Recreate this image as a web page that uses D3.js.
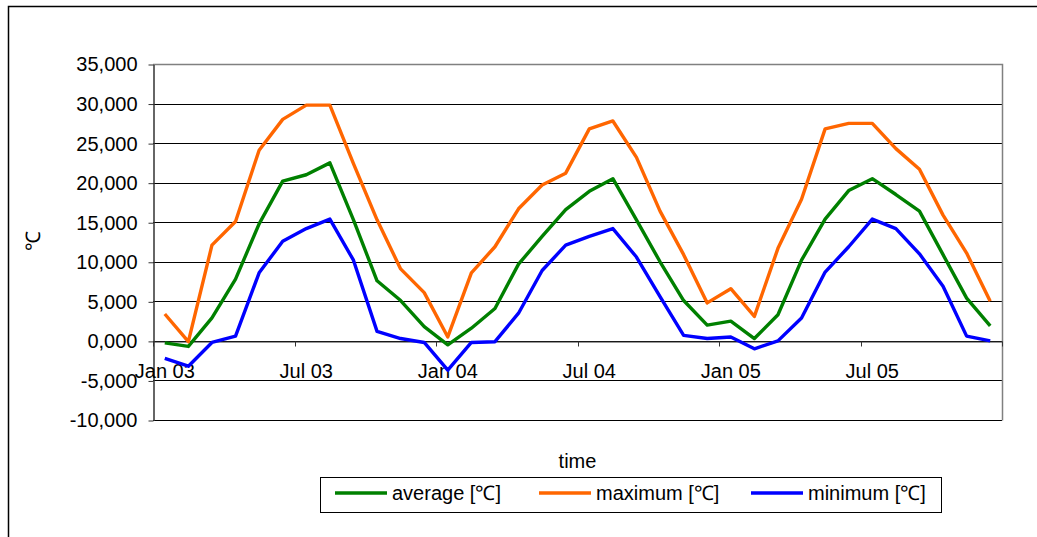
<!DOCTYPE html>
<html>
<head>
<meta charset="utf-8">
<script src="https://cdn.jsdelivr.net/npm/d3@7"></script>
<style>
  html, body { margin: 0; padding: 0; background: #fff; }
  svg { display: block; font-family: "Liberation Sans", Arial, sans-serif; }
</style>
</head>
<body>
<svg id="chart" width="1037" height="537"></svg>
<script>
// Monthly temperatures, Jan 2003 – Dec 2005
const months = [
  "Jan 03","Feb 03","Mar 03","Apr 03","May 03","Jun 03","Jul 03","Aug 03","Sep 03","Oct 03","Nov 03","Dec 03",
  "Jan 04","Feb 04","Mar 04","Apr 04","May 04","Jun 04","Jul 04","Aug 04","Sep 04","Oct 04","Nov 04","Dec 04",
  "Jan 05","Feb 05","Mar 05","Apr 05","May 05","Jun 05","Jul 05","Aug 05","Sep 05","Oct 05","Nov 05","Dec 05"
];
const average = [
  -0.25, -0.7, 2.9, 7.8, 14.8, 20.2, 21.0, 22.5, 15.3, 7.6, 5.1, 1.8,
  -0.5, 1.6, 4.1, 9.7, 13.2, 16.6, 18.9, 20.5, 15.3, 10.0, 5.1, 2.0,
  2.5, 0.3, 3.3, 10.2, 15.4, 19.0, 20.5, 18.5, 16.4, 10.9, 5.4, 1.9
];
const maximum = [
  3.4, -0.1, 12.1, 15.1, 24.1, 28.0, 29.8, 29.8, 22.4, 15.3, 9.1, 6.1,
  0.5, 8.6, 11.9, 16.7, 19.7, 21.2, 26.8, 27.8, 23.2, 16.4, 10.9, 4.8,
  6.6, 3.1, 11.7, 17.9, 26.8, 27.5, 27.5, 24.3, 21.7, 15.9, 11.1, 5.0
];
const minimum = [
  -2.2, -3.2, -0.2, 0.6, 8.6, 12.6, 14.2, 15.4, 10.2, 1.2, 0.3, -0.2,
  -3.7, -0.2, -0.1, 3.5, 8.9, 12.1, 13.2, 14.2, 10.6, 5.6, 0.7, 0.3,
  0.5, -1.0, 0.0, 2.9, 8.7, 11.9, 15.4, 14.2, 11.0, 6.9, 0.6, 0.0
];
const tickLabels = ["Jan 03","Jul 03","Jan 04","Jul 04","Jan 05","Jul 05"];
const yTicks = [-10, -5, 0, 5, 10, 15, 20, 25, 30, 35];

const series = [
  { name: "average [℃]", values: average, color: "#008000" },
  { name: "maximum [℃]", values: maximum, color: "#FF6600" },
  { name: "minimum [℃]", values: minimum, color: "#0000FF" }
];

const svg = d3.select("#chart");
const plot = { left: 153, right: 1002, top: 64, bottom: 420 };

const x = d3.scaleBand().domain(months).range([plot.left, plot.right]).padding(0);
const y = d3.scaleLinear().domain([-10, 35]).range([plot.bottom, plot.top]);
const crisp = v => Math.round(v) + 0.5;

const loc = d3.formatLocale({ decimal: ",", thousands: ".", grouping: [3], currency: ["", ""], minus: "-" });
const fmt = loc.format(".3f");

// outer chart frame
svg.append("rect")
  .attr("x", 8.5).attr("y", 6.5).attr("width", 1100).attr("height", 600)
  .attr("fill", "none").attr("stroke", "#000").attr("stroke-width", 1.5);

// horizontal gridlines
svg.append("g").selectAll("line")
  .data(yTicks.filter(t => t !== 35))
  .join("line")
  .attr("x1", plot.left).attr("x2", plot.right)
  .attr("y1", d => crisp(y(d))).attr("y2", d => crisp(y(d)))
  .attr("stroke", "#000").attr("stroke-width", 1);

// plot area border (top and right)
svg.append("path")
  .attr("d", `M${plot.left},${crisp(y(35))}H${crisp(plot.right)}V${crisp(y(-10))}`)
  .attr("fill", "none").attr("stroke", "#808080").attr("stroke-width", 1.5);

// y axis
const yAxis = svg.append("g")
  .attr("transform", `translate(${crisp(plot.left)},0.5)`)
  .call(d3.axisLeft(y).tickValues(yTicks).tickFormat(fmt).tickSize(5).tickSizeOuter(0).tickPadding(11));
yAxis.select(".domain").attr("stroke", "#333").attr("stroke-width", 1.5);
yAxis.selectAll(".tick line").attr("stroke", "#333");
yAxis.selectAll("text").attr("font-size", 20).attr("fill", "#000")
  .attr("font-family", "'Liberation Sans', Arial, sans-serif");

// x axis along the zero line
const x0 = crisp(y(0));
const xAxis = svg.append("g")
  .attr("transform", `translate(0,${x0})`)
  .call(d3.axisBottom(x).tickValues(tickLabels).tickSize(0).tickSizeOuter(0).tickPadding(22));
xAxis.select(".domain").attr("stroke", "#333").attr("stroke-width", 1);
xAxis.selectAll("text").attr("font-size", 20).attr("fill", "#000")
  .attr("font-family", "'Liberation Sans', Arial, sans-serif");

// category boundary tick marks every six months
svg.append("g").selectAll("line")
  .data(tickLabels.map(m => x(m)).concat([plot.right]))
  .join("line")
  .attr("x1", d => crisp(d)).attr("x2", d => crisp(d))
  .attr("y1", x0).attr("y2", x0 + 5)
  .attr("stroke", "#333").attr("stroke-width", 1);

// series lines
const line = d3.line()
  .x((d, i) => x(months[i]) + x.bandwidth() / 2)
  .y(d => y(d));

svg.append("g").selectAll("path")
  .data(series)
  .join("path")
  .attr("d", s => line(s.values))
  .attr("fill", "none")
  .attr("stroke", s => s.color)
  .attr("stroke-width", 3.4)
  .attr("stroke-linejoin", "round");

// axis titles
svg.append("text")
  .attr("transform", "translate(40,241) rotate(-90)")
  .attr("text-anchor", "middle")
  .attr("font-size", 20)
  .text("℃");

svg.append("text")
  .attr("x", (plot.left + plot.right) / 2).attr("y", 468)
  .attr("text-anchor", "middle")
  .attr("font-size", 20)
  .text("time");

// legend
const legend = svg.append("g");
legend.append("rect")
  .attr("x", 320.5).attr("y", 477.5).attr("width", 621).attr("height", 35)
  .attr("fill", "#fff").attr("stroke", "#000").attr("stroke-width", 1);

const legendX = [335, 539, 751];
const item = legend.selectAll("g.item")
  .data(series)
  .join("g")
  .attr("class", "item")
  .attr("transform", (d, i) => `translate(${legendX[i]},493)`);
item.append("line")
  .attr("x1", 0).attr("x2", 52).attr("y1", 0).attr("y2", 0)
  .attr("stroke", d => d.color).attr("stroke-width", 3.4);
item.append("text")
  .attr("x", 57).attr("y", 7)
  .attr("font-size", 20)
  .text(d => d.name);
</script>
</body>
</html>
